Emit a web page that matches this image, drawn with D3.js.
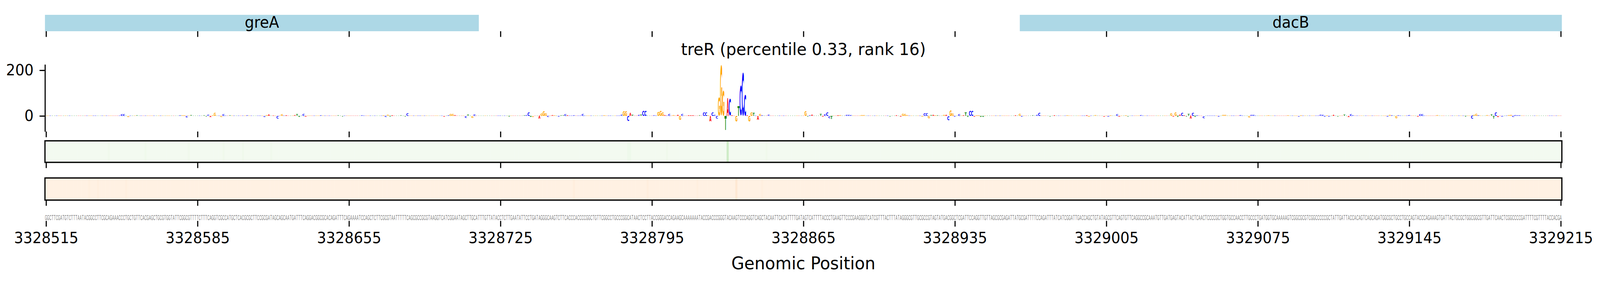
<!DOCTYPE html>
<html>
<head>
<meta charset="utf-8">
<script src="https://cdn.jsdelivr.net/npm/d3@7"></script>
<style>
  html, body { margin: 0; padding: 0; background: #fff; overflow: hidden; }
  svg { display: block; font-family: "DejaVu Sans", sans-serif; }
</style>
</head>
<body>
<svg id="chart"></svg>
<script>
// region shown (genomic coordinates, inclusive)
var regionStart = 3328515;
var regionEnd   = 3329215;

var xTicks = [3328515, 3328585, 3328655, 3328725, 3328795, 3328865,
              3328935, 3329005, 3329075, 3329145, 3329215];
var yTicks = [0, 200];

var titleText  = "treR (percentile 0.33, rank 16)";
var xLabelText = "Genomic Position";

// genes overlapping the window
var geneNames  = ["greA", "dacB"];
var geneStarts = [3328380, 3328965];
var geneEnds   = [3328715, 3329420];

// reference sequence, one base per position (in 70 bp pieces)
var seqPieces = [
  "GGCTTCGATGTCTTTAATACGGCCTTCGCAGAAACCCTGCTGTTCACGAGCTGCGTGGTATTCGGCGTTT",
  "TCTTTCAGGTCGCCATGCTCACGCGCTTCCGCGATAGCAGCAATGATTTCAGGACGGCGCACAGATTTCA",
  "GAAAATCCAGCTCTTCGCGTAATTTTTCAGCGCCGCGTAAGGTCATCGGAATAGCTTGCATTTGTTATAC",
  "CTCTTGAATATTCCTGATAGGGCAAGTCTTCACCCACCCCGGCTGTTCGGCCTGCCCGGCATAACTCCTT",
  "ACCGGGACCAGAAGCAAAAAAATACCGACCCGGGTACAAGTCCCAGGTCAGCTACAATTCACATTTTGAT",
  "AGTCATTTTACCCTGAAGTTCCCGAAGGGTCATCGTTTACTTTATAGGGCGTTGCGCCGTAGTATGACGG",
  "CTCGATTCCAGGTTGTTAGCGCGAGATTATGCGATTTTCCAGATTTATCATCGGATTGACCAGCTGTATA",
  "GCGTTCAGTGTTCAGGCCGCAAATGTTGATGAGTACATTACTCAACTCCCCGCTGGTGCCAACCTTGCCC",
  "TGATGGTGCAAAAAGTCGGCGCGTCGGCCCCCGCTATTGATTACCACAGTCAGCAGATGGCGCTGCCTGC",
  "CAGTACCCAGAAAGTGATTACTGCGCTGGCGGCGTTGATTCAACTCGGCCCCGATTTTCGTTTTACCACGA"
];

// attribution per base: [offset from regionStart, value]; bases not listed sit at ~1.5
var attrFloor = 1.5;
var attrPeaks = [
  [35, 8], [36, 8], [38, -5], [42, 3], [62, 3], [63, 3], [64, 3], [65, -7], [67, 4],
  [73, 3], [74, -3], [75, 6], [76, -5], [77, 3], [78, 13], [81, -6], [82, 8], [85, 3],
  [93, 3], [101, -5], [102, 4], [103, 7], [105, 2], [107, -12], [109, 8], [111, 3],
  [115, 4], [116, 8], [117, -5], [119, 9], [120, -4], [127, 3], [135, 3], [137, -3],
  [146, 3], [156, 3], [157, -6], [158, 6], [159, -4], [160, 3], [164, 3], [166, -3],
  [167, 11], [184, -3], [186, 3], [187, 9], [188, 9], [189, 4], [194, -8], [195, 6],
  [197, -8], [198, 7], [214, -4], [221, 3], [222, 4], [223, 15], [224, -5], [225, -5],
  [228, -12], [229, 11], [230, 20], [231, 12], [232, -6], [234, 4], [235, 3], [237, -4],
  [238, 3], [239, 3], [240, 8], [241, 3], [244, 3], [248, 10], [258, 3], [266, 6],
  [267, 20], [268, 20], [269, -22], [270, 12], [271, 5], [274, 5], [275, 6], [276, 23],
  [277, 23], [281, 3], [283, 18], [284, 24], [285, 15], [286, 4], [288, 10], [290, 4],
  [292, 5], [293, -18], [294, 10], [297, 3], [298, 3], [299, 3], [302, 3], [304, 16],
  [305, 16], [306, 3], [307, -24], [308, 16], [309, 5], [310, -12], [311, 80], [312, 222],
  [313, 110], [314, -62], [315, 77], [316, 75], [317, 3], [319, -25], [320, 43],
  [321, 132], [322, 189], [323, 92], [324, 3], [325, -25], [326, 16], [327, 14],
  [329, -17], [330, 9], [331, 3], [334, 6], [351, 20], [352, -3], [353, 3], [354, 6],
  [358, 9], [359, -4], [360, 8], [361, 16], [362, -10], [363, -14], [366, 3], [367, 4],
  [370, 5], [371, 5], [372, 4], [377, 4], [378, 4], [390, -3], [393, 3], [395, -4],
  [396, 10], [397, 9], [398, 4], [405, -4], [406, 12], [407, 12], [408, -11], [409, 4],
  [410, 5], [411, 3], [412, 3], [415, 5], [416, 5], [417, -19], [418, 26], [419, 11],
  [420, -4], [422, 8], [424, 3], [425, 15], [426, -6], [427, 24], [428, 24], [429, -3],
  [430, 3], [431, 3], [432, -5], [433, -5], [448, 3], [450, 10], [451, -4], [456, 3],
  [458, 5], [459, 14], [464, -3], [466, 3], [472, 3], [481, 3], [482, -4], [485, 4],
  [489, -3], [491, -4], [492, 3], [495, 8], [496, -4], [499, 3], [500, -3], [506, 4],
  [520, 12], [521, -4], [522, 15], [523, -6], [524, 6], [525, 14], [526, 3], [527, -3],
  [528, 9], [529, -12], [530, 14], [531, -6], [532, 3], [535, -10], [542, -4], [544, 5],
  [545, 5], [552, 4], [556, -7], [557, 5], [558, 5], [565, 3], [574, 3], [579, -3],
  [580, 3], [589, 6], [590, 5], [591, -4], [592, 3], [593, -4], [595, 5], [597, -3],
  [600, 6], [602, -5], [603, 8], [604, 3], [620, -4], [621, 5], [622, 3], [624, -11],
  [625, 3], [630, 4], [634, -4], [635, 8], [636, 8], [643, 4], [656, -4], [659, -13],
  [660, 5], [661, 10], [662, 3], [666, 4], [668, 7], [669, -12], [670, 15], [671, -5],
  [673, -4], [676, 4], [677, 5], [678, -6], [679, 4], [680, 3], [681, 3]
];

// the two heat strips (colormap fraction); unlisted bases sit at the floor value
var greenFloor = 0.03;
var greenPeaks = [[29, 0.05], [46, 0.05], [66, 0.05], [82, 0.05], [91, 0.05], [104, 0.05],
                  [269, 0.06], [270, 0.06], [287, 0.05], [315, 0.22], [333, 0.05]];
var orangeFloor = 0.035;
var orangePeaks = [[20, 0.05], [24, 0.05], [37, 0.05], [244, 0.055], [278, 0.055],
                   [301, 0.05], [319, 0.1], [331, 0.05]];

var baseColors = { A: "#ff0000", C: "#0000ff", G: "#ffa500", T: "#008000" };

// ---------------------------------------------------------------------------

var W = 4320, H = 720;
var plotLeft = 121.4, plotRight = 4217;

var sequence = seqPieces.join("");
var nBases = regionEnd - regionStart + 1;

var attr = d3.range(nBases).map(function () { return attrFloor; });
attrPeaks.forEach(function (p) { attr[p[0]] = p[1]; });
var greenVals = d3.range(nBases).map(function () { return greenFloor; });
greenPeaks.forEach(function (p) { greenVals[p[0]] = p[1]; });
var orangeVals = d3.range(nBases).map(function () { return orangeFloor; });
orangePeaks.forEach(function (p) { orangeVals[p[0]] = p[1]; });

var bases = d3.range(nBases).map(function (i) {
  return { pos: regionStart + i, base: sequence.charAt(i), attr: attr[i],
           green: greenVals[i], orange: orangeVals[i] };
});

// drawn in a fixed 4320x720 coordinate space, stretched to whatever the window is
var svg = d3.select("#chart")
            .attr("viewBox", "0 0 " + W + " " + H)
            .attr("preserveAspectRatio", "none")
            .style("width", "100vw").style("height", "100vh");

var x = d3.scaleLinear()
          .domain([regionStart - 0.5, regionEnd + 0.5])
          .range([plotLeft, plotRight]);
var step = x(regionStart + 1) - x(regionStart);

var tickLen = 14.6, tickW = 3;

function styleTicks(g) {
  g.select(".domain").remove();
  g.selectAll(".tick line").attr("stroke", "#000").attr("stroke-width", tickW);
  g.selectAll(".tick text").attr("fill", "#000")
     .style("font-family", "DejaVu Sans").style("font-size", "39px");
}

// ---- gene track ----
var geneTop = 38, geneBottom = 80;
var genes = geneNames.map(function (n, i) {
  var s = Math.max(geneStarts[i], regionStart - 0.5);
  var e = Math.min(geneEnds[i], regionEnd + 0.5);
  return { name: n, start: s, end: e };
});
var geneG = svg.append("g").attr("class", "genes");
geneG.selectAll("rect").data(genes).enter().append("rect")
     .attr("x", function (d) { return x(d.start); })
     .attr("width", function (d) { return x(d.end) - x(d.start); })
     .attr("y", geneTop).attr("height", geneBottom - geneTop)
     .attr("fill", "#add8e6");
geneG.selectAll("text").data(genes).enter().append("text")
     .attr("x", function (d) { return (x(d.start) + x(d.end)) / 2; })
     .attr("y", 71)
     .attr("text-anchor", "middle")
     .style("font-size", "40px")
     .text(function (d) { return d.name; });
svg.append("g").attr("transform", "translate(0," + geneBottom + ")")
   .call(d3.axisBottom(x).tickValues(xTicks).tickSize(tickLen).tickFormat(""))
   .call(styleTicks);

// ---- title ----
svg.append("text")
   .attr("x", (plotLeft + plotRight) / 2).attr("y", 141)
   .attr("text-anchor", "middle")
   .style("font-size", "43.5px")
   .text(titleText);

// ---- attribution logo ----
var logoTop = 165, logoBottom = 337;
var y = d3.scaleLinear().domain([-68.4, 225.6]).range([logoBottom, logoTop]);

// tight glyph boxes so each letter can be stretched to fill its cell
var glyphFont = "bold 200px 'DejaVu Sans'";
var ctx = document.createElement("canvas").getContext("2d");
ctx.font = glyphFont;
var glyphBox = {};
"ACGT".split("").forEach(function (b) {
  var m = ctx.measureText(b);
  glyphBox[b] = { left: m.actualBoundingBoxLeft, right: m.actualBoundingBoxRight,
                  asc: m.actualBoundingBoxAscent, desc: m.actualBoundingBoxDescent };
});

var logoG = svg.append("g").attr("class", "logo");
logoG.selectAll("text").data(bases).enter().append("text")
  .style("font", glyphFont)
  .attr("fill", function (d) { return baseColors[d.base]; })
  .attr("transform", function (d) {
    var gb = glyphBox[d.base];
    var x0 = x(d.pos) - 0.475 * step, w = 0.95 * step;
    var top = y(Math.max(d.attr, 0)), bot = y(Math.min(d.attr, 0));
    var sx = w / (gb.left + gb.right), sy = (bot - top) / (gb.asc + gb.desc);
    return "translate(" + x0 + "," + top + ") scale(" + sx + "," + sy + ") translate(" +
           gb.left + "," + gb.asc + ")";
  })
  .text(function (d) { return d.base; });

svg.append("g").attr("transform", "translate(" + plotLeft + ",0)")
   .call(d3.axisLeft(y).tickValues(yTicks).tickSize(tickLen).tickSizeOuter(0).tickPadding(16))
   .call(function (g) {
     g.select(".domain").attr("stroke", "#000").attr("stroke-width", tickW);
     g.selectAll(".tick line").attr("stroke", "#000").attr("stroke-width", tickW);
     g.selectAll(".tick text").attr("fill", "#000")
        .style("font-family", "DejaVu Sans").style("font-size", "39px");
   });
svg.append("g").attr("transform", "translate(0," + logoBottom + ")")
   .call(d3.axisBottom(x).tickValues(xTicks).tickSize(tickLen).tickFormat(""))
   .call(styleTicks);

// ---- heat strips ----
function strip(top, bottom, key, interp) {
  var g = svg.append("g");
  g.selectAll("rect").data(bases).enter().append("rect")
   .attr("x", function (d) { return x(d.pos - 0.5); })
   .attr("width", step + 0.4)
   .attr("y", top).attr("height", bottom - top)
   .attr("fill", function (d) { return interp(d[key]); });
  g.append("rect")
   .attr("x", plotLeft).attr("y", top)
   .attr("width", plotRight - plotLeft).attr("height", bottom - top)
   .attr("fill", "none").attr("stroke", "#000").attr("stroke-width", 3.3);
  svg.append("g").attr("transform", "translate(0," + bottom + ")")
     .call(d3.axisBottom(x).tickValues(xTicks).tickSize(tickLen).tickFormat(""))
     .call(styleTicks);
}
strip(360.8, 416, "green", d3.interpolateGreens);
strip(456, 512.7, "orange", d3.interpolateOranges);

// ---- sequence row ----
var seqG = svg.append("g").attr("class", "sequence");
seqG.selectAll("text").data(bases).enter().append("text")
   .attr("transform", function (d) { return "translate(" + x(d.pos) + ",564) scale(0.42,1)"; })
   .attr("text-anchor", "middle")
   .attr("fill", "#7f7f7f")
   .style("font-family", "Liberation Sans").style("font-size", "18.5px")
   .text(function (d) { return d.base; });

var seqAxisY = 566;
svg.append("g").attr("transform", "translate(0," + seqAxisY + ")")
   .call(d3.axisBottom(x).tickValues(xTicks).tickSize(tickLen).tickPadding(15)
           .tickFormat(d3.format("d")))
   .call(styleTicks);

svg.append("text")
   .attr("x", (plotLeft + plotRight) / 2).attr("y", 690)
   .attr("text-anchor", "middle")
   .style("font-size", "45px")
   .text(xLabelText);
</script>
</body>
</html>
